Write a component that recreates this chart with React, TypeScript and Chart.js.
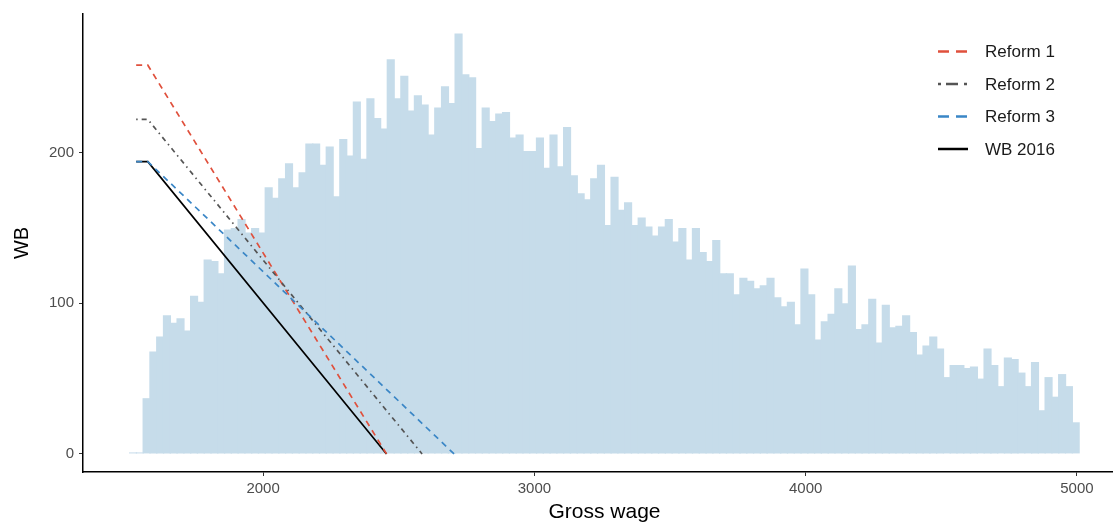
import React, { useEffect, useRef } from 'react';
import { Chart, registerables } from 'chart.js';

Chart.register(...registerables);

// Histogram definition (gross wage bins)
const binStart = 1508;
const binWidth = 25;
const binCounts = [
  1, 1, 37, 68, 78, 92, 87, 90, 82, 105,
  101, 129, 128, 120, 149, 150, 156, 147, 150, 147,
  177, 170, 183, 193, 177, 187, 206, 206, 192, 204,
  171, 209, 198, 234, 196, 236, 223, 216, 262, 236,
  251, 228, 238, 232, 212, 230, 244, 233, 279, 252,
  250, 203, 230, 221, 226, 227, 210, 212, 201, 201,
  210, 190, 212, 191, 217, 185, 173, 169, 183, 192,
  152, 184, 162, 167, 152, 157, 151, 145, 151, 156,
  141, 150, 129, 150, 134, 128, 142, 120, 120, 106,
  117, 115, 110, 112, 117, 104, 98, 101, 86, 123,
  106, 76, 88, 93, 110, 100, 125, 83, 86, 103,
  74, 99, 84, 85, 92, 81, 66, 72, 78, 70,
  51, 59, 59, 57, 58, 50, 70, 59, 45, 64,
  63, 54, 45, 61, 29, 51, 38, 53, 45, 21,
];

// Work bonus schedules (gross wage -> WB)
const reform1Wage = [1532, 1575, 2455];
const reform1WB = [258, 258, 0];
const reform2Wage = [1532, 1575, 2586];
const reform2WB = [222, 222, 0];
const reform3Wage = [1532, 1575, 2704];
const reform3WB = [194, 194, 0];
const wb2016Wage = [1532, 1575, 2455];
const wb2016WB = [194, 194, 0];

const xTickValues = [2000, 3000, 4000, 5000];
const yTickValues = [0, 100, 200];

const FONT = "'Liberation Sans', Arial, Helvetica, sans-serif";

const legendItems = [
  { label: 'Reform 1', color: '#e0503c', dash: [11, 7], width: 2.5 },
  { label: 'Reform 2', color: '#555555', dash: [3, 5, 12, 6], width: 2.5 },
  { label: 'Reform 3', color: '#3a86c6', dash: [11, 7], width: 2.5 },
  { label: 'WB 2016', color: '#000000', dash: [], width: 2.5 },
];

const legendPlugin = {
  id: 'customLegend',
  afterDatasetsDraw(chart: any) {
    const ctx = chart.ctx;
    ctx.save();
    const x0 = 938;
    const x1 = 968;
    const ys = [51.5, 84, 116.5, 149];
    legendItems.forEach((it, i) => {
      ctx.beginPath();
      ctx.setLineDash(it.dash);
      ctx.lineWidth = it.width;
      ctx.strokeStyle = it.color;
      ctx.lineCap = 'butt';
      ctx.moveTo(x0, ys[i]);
      ctx.lineTo(x1, ys[i]);
      ctx.stroke();
      ctx.setLineDash([]);
      ctx.fillStyle = '#1a1a1a';
      ctx.font = `17px ${FONT}`;
      ctx.textBaseline = 'middle';
      ctx.textAlign = 'left';
      ctx.fillText(it.label, 985, ys[i] + 1);
    });
    ctx.restore();
  },
};

function toPoints(xs: number[], ys: number[]) {
  return xs.map((x, i) => ({ x, y: ys[i] }));
}

export default function App() {
  const canvasRef = useRef<HTMLCanvasElement | null>(null);

  useEffect(() => {
    if (!canvasRef.current) return;
    const histData = binCounts.map((c, i) => ({ x: binStart + binWidth * (i + 0.5), y: c }));
    const chart = new Chart(canvasRef.current, {
      type: 'line',
      data: {
        datasets: [
          {
            type: 'line',
            label: 'Reform 1',
            data: toPoints(reform1Wage, reform1WB),
            borderColor: '#e0503c',
            borderWidth: 1.7,
            borderDash: [6, 5],
            pointRadius: 0,
            fill: false,
            order: 3,
          },
          {
            type: 'line',
            label: 'Reform 2',
            data: toPoints(reform2Wage, reform2WB),
            borderColor: '#555555',
            borderWidth: 1.7,
            borderDash: [1.5, 4, 5, 4],
            pointRadius: 0,
            fill: false,
            order: 2,
          },
          {
            type: 'line',
            label: 'WB 2016',
            data: toPoints(wb2016Wage, wb2016WB),
            borderColor: '#000000',
            borderWidth: 1.7,
            pointRadius: 0,
            fill: false,
            order: 4,
          },
          {
            type: 'line',
            label: 'Reform 3',
            data: toPoints(reform3Wage, reform3WB),
            borderColor: '#3a86c6',
            borderWidth: 1.7,
            borderDash: [6, 5],
            pointRadius: 0,
            fill: false,
            order: 1,
          },
          {
            type: 'bar',
            label: 'Gross wage',
            data: histData,
            backgroundColor: '#c6dcea',
            borderWidth: 0,
            barPercentage: 1.2,
            categoryPercentage: 1,
            order: 10,
          } as any,
        ],
      },
      options: {
        animation: false,
        responsive: true,
        maintainAspectRatio: false,
        layout: { padding: { left: 0, right: 14, top: 14, bottom: 0 } },
        plugins: {
          legend: { display: false },
          tooltip: { enabled: false },
        },
        scales: {
          x: {
            type: 'linear',
            min: 1336,
            max: 5181,
            offset: false,
            afterBuildTicks: (scale: any) => {
              scale.ticks = xTickValues.map((v) => ({ value: v }));
            },
            afterFit: (scale: any) => {
              scale.height = 53;
            },
            grid: {
              offset: false,
              drawOnChartArea: false,
              drawTicks: true,
              tickLength: 4,
              color: '#333333',
              lineWidth: 1,
            },
            border: { display: true, color: '#000000', width: 1.5 },
            ticks: {
              color: '#4d4d4d',
              font: { size: 15, family: FONT },
              padding: 4,
              maxRotation: 0,
              autoSkip: false,
              callback: (v: any) => String(v),
            },
            title: {
              display: true,
              text: 'Gross wage',
              color: '#000000',
              font: { size: 21, family: FONT, lineHeight: 1 },
              padding: { top: 0, bottom: 2 },
            },
          },
          y: {
            type: 'linear',
            min: -12,
            max: 292,
            afterBuildTicks: (scale: any) => {
              scale.ticks = yTickValues.map((v) => ({ value: v }));
            },
            afterFit: (scale: any) => {
              scale.width = 83;
            },
            grid: {
              offset: false,
              drawOnChartArea: false,
              drawTicks: true,
              tickLength: 4,
              color: '#333333',
              lineWidth: 1,
            },
            border: { display: true, color: '#000000', width: 1.5 },
            ticks: {
              color: '#4d4d4d',
              font: { size: 15, family: FONT },
              padding: 5,
              autoSkip: false,
              callback: (v: any) => String(v),
            },
            title: {
              display: true,
              text: 'WB',
              color: '#000000',
              font: { size: 20, family: FONT, lineHeight: 1 },
              padding: { top: 12, bottom: 0 },
            },
          },
        },
      },
      plugins: [legendPlugin],
    });
    return () => chart.destroy();
  }, []);

  return (
    <div style={{ position: 'fixed', left: 0, top: 0, width: 1113, height: 525, overflow: 'hidden', background: '#ffffff' }}>
      <div style={{ position: 'absolute', left: 0, top: 0, width: 1140, height: 525 }}>
        <canvas ref={canvasRef} />
      </div>
    </div>
  );
}
